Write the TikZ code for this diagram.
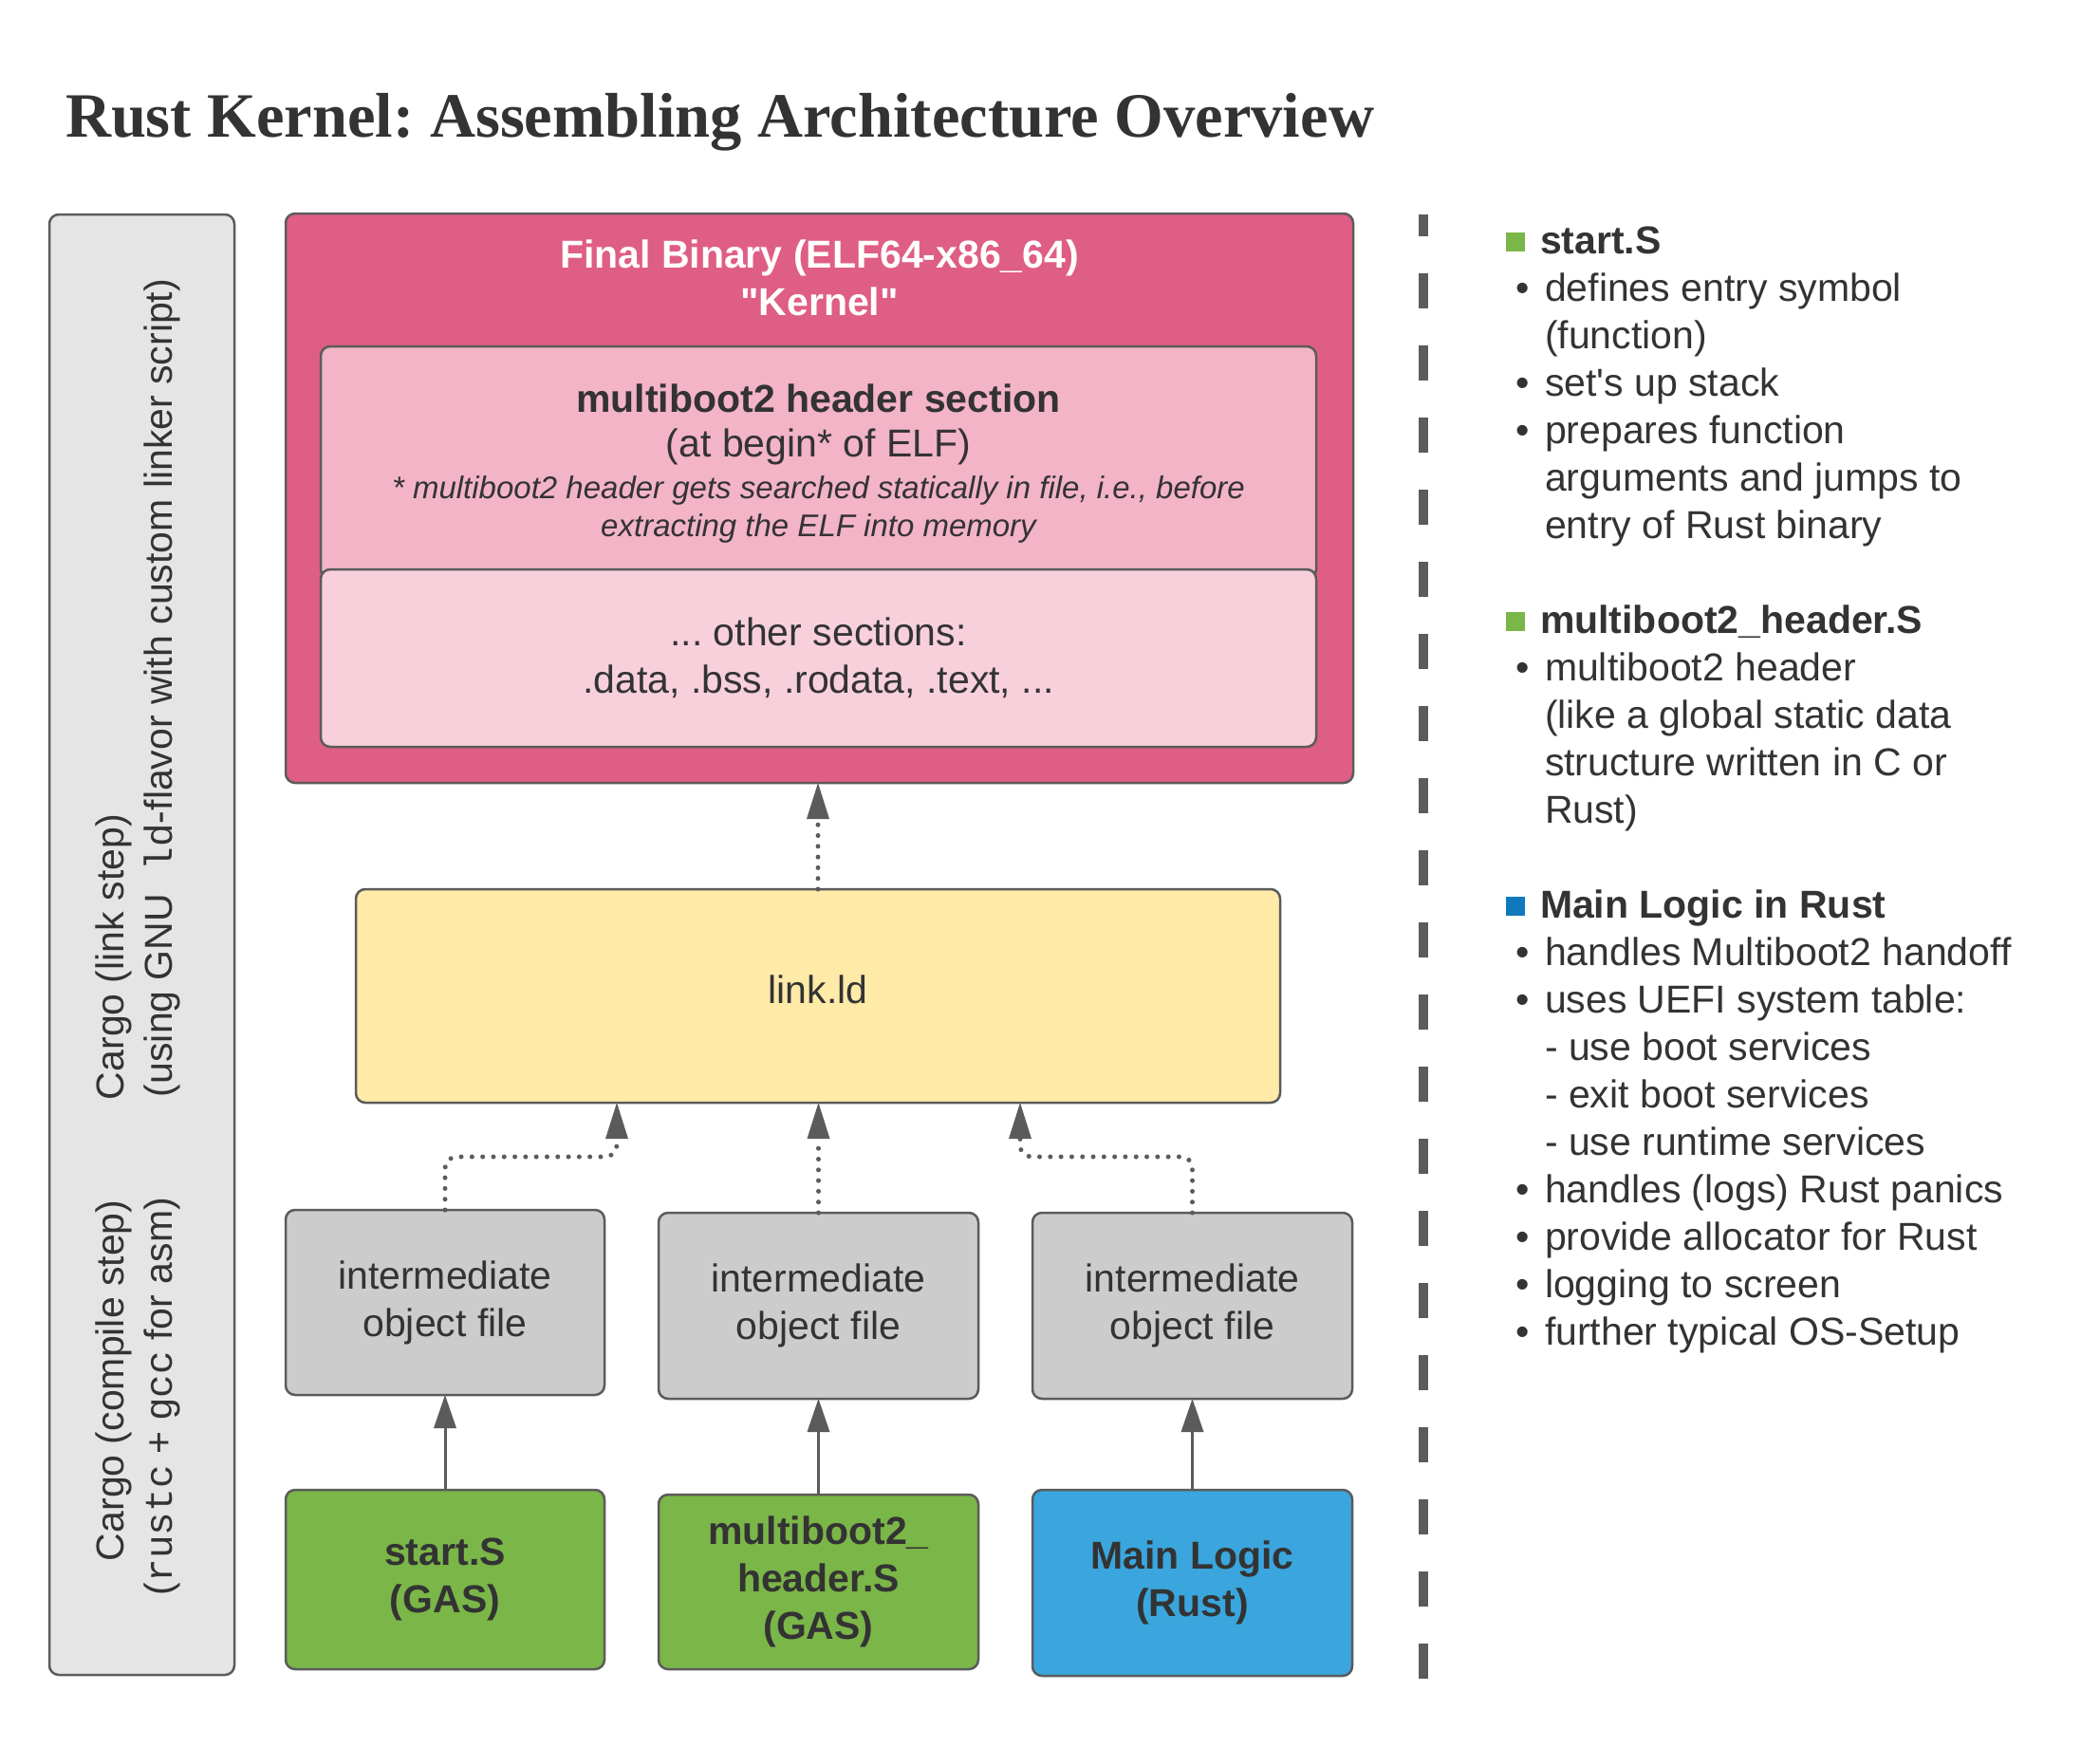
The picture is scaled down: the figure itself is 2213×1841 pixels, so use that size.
\documentclass[tikz,border=0pt]{standalone}
\usepackage{fontspec}
\setmainfont{Liberation Sans}
\setsansfont{Liberation Sans}
\setmonofont{Liberation Mono}
\newfontfamily\titlefont{Liberation Serif}
\newfontfamily\rawsans{Liberation Sans}
\usetikzlibrary{arrows.meta,calc}
\AtBeginDocument{\frenchspacing}
\definecolor{txt}{RGB}{51,51,51}
\definecolor{lineg}{RGB}{91,91,91}
\definecolor{pinkA}{RGB}{223,94,133}
\definecolor{pinkB}{RGB}{243,180,199}
\definecolor{pinkC}{RGB}{248,208,220}
\definecolor{yel}{RGB}{255,234,167}
\definecolor{objg}{RGB}{204,204,204}
\definecolor{sideg}{RGB}{229,229,229}
\definecolor{grn}{RGB}{122,182,72}
\definecolor{blu}{RGB}{58,166,221}
\definecolor{dblu}{RGB}{16,121,189}
\newcommand\fsN{\fontsize{41}{50}\selectfont}
\newcommand\fsI{\fontsize{33}{40}\selectfont\itshape}
\newcommand\mono[1]{{\ttfamily #1}}
\newcommand\bul{\makebox[31pt][l]{•}}
\begin{document}
\begin{tikzpicture}[x=1pt,y=-1pt,
  every node/.style={inner sep=0pt,outer sep=0pt},
  box/.style={draw=lineg,line width=2.5pt,rounded corners=10pt,align=center,text=txt,font=\fsN},
  tip/.style={-{Triangle[length=#1 0 0,width=24pt 0 0,line width=0pt]}},
  arr/.style={draw=lineg,fill=none,line width=3pt,tip=35pt},
  dotc/.style={draw=lineg,line width=5pt,line cap=round,dash pattern=on 0pt off 11.3pt,rounded corners=12pt,tip=38pt},
  lbl/.style={text=txt,font=\fsN},
]
\useasboundingbox (0,0) rectangle (2213,1841);

% title
\node[anchor=base west,text=txt,font=\titlefont\bfseries\fontsize{66.5}{80}\selectfont] (title) at (69,144) {Rust Kernel: Assembling Architecture Overview};

% left side panel
\node[box,fill=sideg,minimum width=195pt,minimum height=1539pt] (side) at (149.5,995.5) {};
\node[lbl,rotate=90,anchor=base west] (c1) at (130,1159) {Cargo (link step)};
\node[lbl,rotate=90,anchor=base west] (c2) at (181,1156) {(using GNU\mono{ ld}-flavor with custom linker script)};
\node[lbl,rotate=90,anchor=base west] (c3) at (130,1645) {Cargo (compile step)};
\node[lbl,rotate=90,anchor=base west] (c4) at (181,1681) {(\mono{rustc} + \mono{gcc} for asm)};

% final binary
\node[box,fill=pinkA,minimum width=1125pt,minimum height=600pt] (outer) at (863.5,525) {};
\node[anchor=base,text=white,font=\fsN\bfseries] (ftitle) at (863.5,282)
  {\begin{tabular}[t]{@{}c@{}}Final Binary (ELF64-x86\_64)\\{\rawsans "Kernel"}\end{tabular}};
\node[box,fill=pinkB,minimum width=1049pt,minimum height=245pt] (hdr) at (862.5,487.5) {};
\node[box,fill=pinkC,minimum width=1049pt,minimum height=187pt] (oth) at (862.5,693.5)
  {... other sections:\\.data, .bss, .rodata, .text, ...};
\node[anchor=base,text=txt,font=\fsN\bfseries] (h1) at (862.5,434) {multiboot2 header section};
\node[anchor=base,lbl] (h2) at (862.5,481) {(at begin* of ELF)};
\node[anchor=base,text=txt,font=\fsI] (h3) at (862.5,525) {* multiboot2 header gets searched statically in file, i.e., before};
\node[anchor=base,text=txt,font=\fsI] (h4) at (862.5,565) {extracting the ELF into memory};

% linker
\node[box,fill=yel,minimum width=974pt,minimum height=225pt,text depth=13pt] (link) at (862,1049.5) {link.ld};

% intermediate objects
\node[box,fill=objg,minimum width=336pt,minimum height=195pt] (i1) at (469,1372.5) {intermediate\\object file};
\node[box,fill=objg,minimum width=337pt,minimum height=196pt] (i2) at (862.5,1376) {intermediate\\object file};
\node[box,fill=objg,minimum width=337pt,minimum height=196pt] (i3) at (1256.5,1376) {intermediate\\object file};

% sources
\node[box,fill=grn,font=\fsN\bfseries,minimum width=336pt,minimum height=189pt] (b1) at (469,1664.5) {start.S\\(GAS)};
\node[box,fill=grn,font=\fsN\bfseries,minimum width=337pt,minimum height=184pt] (b2) at (862.5,1667) {multiboot2\_\\header.S\\(GAS)};
\node[box,fill=blu,font=\fsN\bfseries,minimum width=337pt,minimum height=196pt] (b3) at (1256.5,1668) {Main Logic\\(Rust)};

% connectors
\draw[arr] (b1.north) -- (i1.south);
\draw[arr] (b2.north) -- (i2.south);
\draw[arr] (b3.north) -- (i3.south);
\coordinate (jL) at (650,1219);
\coordinate (jR) at (1075,1219);
\draw[dotc] (i1.north) |- (jL) -- (jL |- link.south);
\draw[dotc] (i2.north) -- (i2.north |- link.south);
\draw[dotc] (i3.north) |- (jR) -- (jR |- link.south);
\draw[dotc] (link.north) -- (link.north |- outer.south);

% separator
\coordinate (sepT) at (1500,226);
\coordinate (sepB) at (1500,1772);
\draw[draw=lineg,line width=9.5pt,dash pattern=on 37pt off 39pt,dash phase=14pt] (sepT) -- (sepB);

% legend
\fill[grn] (1587,245) rectangle (1607,265);
\node[anchor=base west,text=txt,font=\fsN\bfseries] (hA) at (1623,267) {start.S};
\node[anchor=base west,lbl] (lA) at (1597,317) {\begin{tabular}[t]{@{}l@{}l@{}}
\bul & defines entry symbol\\
 & (function)\\
\bul & set\textquotesingle s up stack\\
\bul & prepares function\\
 & arguments and jumps to\\
 & entry of Rust binary
\end{tabular}};

\fill[grn] (1587,645) rectangle (1607,665);
\node[anchor=base west,text=txt,font=\fsN\bfseries] (hB) at (1623,667) {multiboot2\_header.S};
\node[anchor=base west,lbl] (lB) at (1597,717) {\begin{tabular}[t]{@{}l@{}l@{}}
\bul & multiboot2 header\\
 & (like a global static data\\
 & structure written in C or\\
 & Rust)
\end{tabular}};

\fill[dblu] (1587,945) rectangle (1607,965);
\node[anchor=base west,text=txt,font=\fsN\bfseries] (hC) at (1623,967) {Main Logic in Rust};
\node[anchor=base west,lbl] (lC) at (1597,1017) {\begin{tabular}[t]{@{}l@{}l@{}}
\bul & handles Multiboot2 handoff\\
\bul & uses UEFI system table:\\
 & - use boot services\\
 & - exit boot services\\
 & - use runtime services\\
\bul & handles (logs) Rust panics\\
\bul & provide allocator for Rust\\
\bul & logging to screen\\
\bul & further typical OS-Setup
\end{tabular}};
\end{tikzpicture}
\end{document}
